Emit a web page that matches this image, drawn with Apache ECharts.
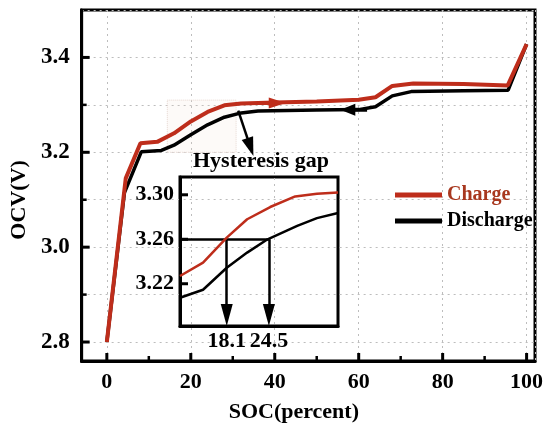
<!DOCTYPE html>
<html><head><meta charset="utf-8">
<script src="https://cdn.jsdelivr.net/npm/echarts@6/dist/echarts.min.js"></script>
<style>html,body{margin:0;padding:0;background:#fff}#c{width:550px;height:431px}</style>
</head><body><div id="c"></div>
<script>
// ---- data ----
const chargeSoc = [0, 4.5, 8, 12, 16, 20, 24, 28, 32, 40, 50, 60, 64, 68, 73, 85, 95.5, 100];
const chargeOcv = [2.80, 3.145, 3.219, 3.222, 3.240, 3.265, 3.285, 3.299, 3.303, 3.305, 3.307, 3.311, 3.316, 3.340, 3.345, 3.344, 3.341, 3.428];
const dischargeSoc = [0, 4.2, 8.2, 13, 16, 20, 24, 28, 32, 36, 50, 60, 64, 68, 72.5, 85, 95.6, 100];
const dischargeOcv = [2.80, 3.115, 3.201, 3.204, 3.215, 3.237, 3.258, 3.274, 3.283, 3.287, 3.289, 3.290, 3.296, 3.319, 3.328, 3.330, 3.331, 3.428];

const insetChargeSoc = [11, 14.5, 18.1, 21.2, 24.7, 28.5, 31.8, 35];
const insetChargeOcv = [3.227, 3.239, 3.2615, 3.278, 3.289, 3.2985, 3.301, 3.302];
const insetDischargeSoc = [11, 14.5, 18.1, 21.2, 24.3, 28.8, 31.8, 35];
const insetDischargeOcv = [3.2074, 3.2146, 3.2344, 3.248, 3.26, 3.272, 3.279, 3.2836];

const socTicks = [0, 20, 40, 60, 80, 100];
const socMinorTicks = [10, 30, 50, 70, 90];
const ocvTicks = [2.8, 3.0, 3.2, 3.4];
const ocvMinorTicks = [2.9, 3.1, 3.3];
const insetOcvTicks = [3.22, 3.26, 3.30];
const gapSoc = [18.1, 24.5];
const gapOcv = 3.26;

// axis extents
const socExtent = [-6, 102], ocvExtent = [2.76, 3.5];
const insetSocExtent = [11, 35], insetOcvExtent = [3.182, 3.316];

// annotation anchors (data coordinates)
const zoomBoxSoc = [14.4, 30.8];
const zoomBoxOcv = [3.20, 3.31];
const gapArrowSoc = [31.3, 34.2];
const gapArrowOcv = [3.288, 3.211];
const chargeArrowSoc = [36, 40.6];
const chargeArrowOcv = 3.304;
const dischargeArrowSoc = [62, 57.4];
const dischargeArrowOcv = 3.2896;

const FONT = "'Liberation Serif','Times New Roman',serif";
const RED = '#be2d1b';
const zip = (a, b) => a.map((v, i) => [v, b[i]]);
const txt = (size, color) => ({fontFamily: FONT, fontWeight: 'bold', fontSize: size, color: color || '#000'});
const dotted = () => ({show: true, lineStyle: {color: '#bdbdbd', width: 1, type: [2, 4]}});
const blackLine = () => ({show: true, onZero: false, lineStyle: {color: '#000', width: 3}});

// inward tick marks drawn through the axes' own scales (custom series)
function tickSeries(gi, dir, values, base, len, width) {
  return {
    type: 'custom', xAxisIndex: gi, yAxisIndex: gi, silent: true, clip: false, z: 6,
    data: values.map(v => dir === 'x' ? [v, base] : [base, v]),
    renderItem: (params, api) => {
      const p = api.coord([api.value(0), api.value(1)]);
      const shape = dir === 'x'
        ? {x1: p[0], y1: p[1], x2: p[0], y2: p[1] - len}
        : {x1: p[0], y1: p[1], x2: p[0] + len, y2: p[1]};
      return {type: 'line', shape: shape, style: {stroke: '#000', lineWidth: width}};
    }
  };
}

const chart = echarts.init(document.getElementById('c'), null, {renderer: 'canvas'});

chart.setOption({
  animation: false,
  backgroundColor: '#fff',
  grid: [
    {left: 77, top: 10, width: 458, height: 351, show: true, borderColor: '#000', borderWidth: 3},
    {left: 180, top: 177, width: 158, height: 149, show: true, borderColor: '#000', borderWidth: 3, backgroundColor: 'transparent'}
  ],
  xAxis: [
    {gridIndex: 0, type: 'value', min: socExtent[0], max: socExtent[1],
     name: 'SOC(percent)', nameLocation: 'middle', nameGap: 40,
     nameTextStyle: Object.assign(txt(22), {padding: [0, 29, 0, 0]}),
     axisLine: blackLine(),
     axisTick: {show: false},
     axisLabel: Object.assign(txt(22), {customValues: socTicks, margin: 10}),
     splitLine: dotted()},
    {gridIndex: 1, type: 'value', min: insetSocExtent[0], max: insetSocExtent[1],
     axisLine: blackLine(),
     axisTick: {show: false},
     axisLabel: Object.assign(txt(22), {customValues: gapSoc, margin: 4, formatter: v => v.toFixed(1)}),
     splitLine: {show: false}}
  ],
  yAxis: [
    {gridIndex: 0, type: 'value', min: ocvExtent[0], max: ocvExtent[1],
     name: 'OCV(V)', nameLocation: 'middle', nameGap: 48, nameRotate: 90,
     nameTextStyle: Object.assign(txt(22), {padding: [0, 29, 0, 0]}),
     axisLine: blackLine(),
     axisTick: {show: false},
     axisLabel: Object.assign(txt(23), {customValues: ocvTicks, margin: 12, formatter: v => v.toFixed(1)}),
     splitLine: dotted()},
    {gridIndex: 1, type: 'value', min: insetOcvExtent[0], max: insetOcvExtent[1],
     axisLine: blackLine(),
     axisTick: {show: false},
     axisLabel: Object.assign(txt(22), {customValues: insetOcvTicks, margin: 6, formatter: v => v.toFixed(2)}),
     splitLine: {show: false}}
  ],
  legend: {
    orient: 'vertical', left: 390, top: 180, itemWidth: 47, itemHeight: 5, itemGap: 6,
    icon: 'rect',
    data: [
      {name: 'Charge', textStyle: txt(20, '#a8381f')},
      {name: 'Discharge', textStyle: txt(20, '#000')}
    ],
    textStyle: txt(20)
  },
  graphic: [
    {type: 'text', left: 193, top: 150, style: {text: 'Hysteresis gap', fill: '#000', font: "bold 22px 'Liberation Serif','Times New Roman',serif"}}
  ],
  series: [
    {name: 'Discharge', type: 'line', xAxisIndex: 0, yAxisIndex: 0, symbol: 'none', color: '#000',
     lineStyle: {color: '#000', width: 3.5}, data: zip(dischargeSoc, dischargeOcv), z: 2,
     markLine: {silent: true, label: {show: false}, lineStyle: {color: '#000', width: 3.5, type: 'solid'},
       data: [
         [{coord: [dischargeArrowSoc[0], dischargeArrowOcv], symbol: 'none'},
          {coord: [dischargeArrowSoc[1], dischargeArrowOcv], symbol: 'triangle', symbolSize: [12, 15]}],
         [{coord: [gapArrowSoc[0], gapArrowOcv[0]], symbol: 'none', lineStyle: {width: 2.5}},
          {coord: [gapArrowSoc[1], gapArrowOcv[1]], symbol: 'triangle', symbolSize: [12, 19], lineStyle: {width: 2.5}}]
       ]}},
    {name: 'Charge', type: 'line', xAxisIndex: 0, yAxisIndex: 0, symbol: 'none', color: RED,
     lineStyle: {color: RED, width: 4}, data: zip(chargeSoc, chargeOcv), z: 3,
     markLine: {silent: true, label: {show: false}, lineStyle: {color: RED, width: 4, type: 'solid'},
       data: [
         [{coord: [chargeArrowSoc[0], chargeArrowOcv], symbol: 'none'},
          {coord: [chargeArrowSoc[1], chargeArrowOcv], symbol: 'triangle', symbolSize: [11, 17]}]
       ]},
     markArea: {silent: true, label: {show: false},
       itemStyle: {color: 'rgba(235,210,200,0.12)', borderColor: '#e6d6d0', borderWidth: 1, borderType: 'dotted'},
       data: [[{coord: [zoomBoxSoc[0], zoomBoxOcv[1]]}, {coord: [zoomBoxSoc[1], zoomBoxOcv[0]]}]]}},
    {name: 'Discharge (inset)', type: 'line', xAxisIndex: 1, yAxisIndex: 1, symbol: 'none', color: '#000',
     lineStyle: {color: '#000', width: 2.5}, data: zip(insetDischargeSoc, insetDischargeOcv), z: 4,
     markLine: {silent: true, label: {show: false}, lineStyle: {color: '#000', width: 2.5, type: 'solid'},
       data: [
         [{coord: [insetSocExtent[0], gapOcv], symbol: 'none'}, {coord: [gapSoc[1], gapOcv], symbol: 'none'}],
         [{coord: [gapSoc[0], gapOcv], symbol: 'none'}, {coord: [gapSoc[0], insetOcvExtent[0] + 0.0099], symbol: 'triangle', symbolSize: [12, 22]}],
         [{coord: [gapSoc[1], gapOcv], symbol: 'none'}, {coord: [gapSoc[1], insetOcvExtent[0] + 0.0099], symbol: 'triangle', symbolSize: [12, 22]}]
       ]}},
    {name: 'Charge (inset)', type: 'line', xAxisIndex: 1, yAxisIndex: 1, symbol: 'none', color: RED,
     lineStyle: {color: RED, width: 2.5}, data: zip(insetChargeSoc, insetChargeOcv), z: 5},
    tickSeries(0, 'x', socTicks, ocvExtent[0], 8, 3),
    tickSeries(0, 'x', socMinorTicks, ocvExtent[0], 5, 2.5),
    tickSeries(0, 'y', ocvTicks, socExtent[0], 8, 3),
    tickSeries(0, 'y', ocvMinorTicks, socExtent[0], 5, 2.5),
    tickSeries(1, 'y', insetOcvTicks, insetSocExtent[0], 8, 3)
  ]
});
</script>
</body></html>
